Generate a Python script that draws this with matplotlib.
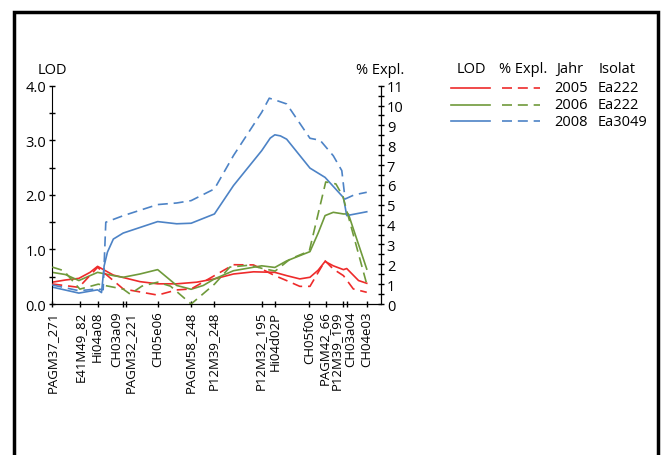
import numpy as np
import matplotlib.pyplot as plt
from matplotlib.ticker import MultipleLocator

plt.rcParams["font.family"] = ["Open Sans", "DejaVu Sans"]

# marker positions along the linkage group (cM)
markers = ["PAGM37_271", "E41M49_82", "Hi04a08", "CH03a09", "PAGM32_221",
           "CH05e06", "PAGM58_248", "P12M39_248", "P12M32_195", "Hi04d02P",
           "CH05f06", "PAGM42_66", "P12M39_199", "CH03a04", "CH04e03"]
marker_cm = [0.0, 8.4, 14.0, 21.6, 22.5, 32.1, 42.3, 49.4, 63.8, 67.9,
             78.3, 83.3, 88.5, 89.7, 95.8]
# label positions, spread apart where markers sit close together
label_cm = [0.0, 8.4, 13.8, 19.7, 23.9, 32.1, 41.9, 49.2, 63.5, 68.0,
            78.3, 82.9, 86.6, 90.8, 95.8]

# LOD profiles
lod05_x = [0, 4.0, 8.1, 11.5, 13.8, 18.6, 26.7, 32.1, 37.9, 44.0, 49.4, 55.2,
           61.3, 67.8, 71.4, 75.4, 78.5, 81.0, 83.1, 85.6, 88.7, 89.7, 93.3, 95.8]
lod05_y = [0.40, 0.44, 0.47, 0.58, 0.69, 0.53, 0.41, 0.37, 0.37, 0.40, 0.46, 0.55,
           0.59, 0.58, 0.52, 0.46, 0.49, 0.62, 0.78, 0.70, 0.63, 0.65, 0.43, 0.38]

lod06_x = [0, 4.0, 8.1, 13.8, 18.6, 21.6, 26.7, 32.1, 37.9, 42.3, 46.0, 49.4,
           55.2, 63.8, 67.8, 71.4, 78.5, 81.0, 83.1, 85.6, 88.7, 90.2, 95.8]
lod06_y = [0.58, 0.54, 0.43, 0.58, 0.52, 0.49, 0.55, 0.63, 0.34, 0.27, 0.34,
           0.46, 0.61, 0.70, 0.67, 0.79, 0.96, 1.30, 1.62, 1.68, 1.65, 1.65, 0.64]

lod08_x = [0, 8.1, 13.8, 15.0, 15.8, 16.8, 18.6, 21.6, 32.1, 37.9, 42.3, 49.4,
           55.2, 63.8, 66.4, 67.8, 69.5, 71.4, 78.5, 83.1, 88.7, 89.7, 95.8]
lod08_y = [0.31, 0.20, 0.26, 0.21, 0.70, 0.95, 1.19, 1.30, 1.51, 1.47, 1.48,
           1.65, 2.17, 2.81, 3.04, 3.10, 3.08, 3.02, 2.49, 2.32, 1.95, 1.62, 1.69]

# explained variance (%)
expl05_x = [0, 8.1, 13.8, 18.6, 21.6, 32.1, 37.9, 42.3, 49.4, 55.2, 61.3,
            67.8, 71.4, 75.4, 78.5, 83.1, 85.6, 88.7, 91.7, 95.8]
expl05_y = [1.01, 0.84, 1.85, 1.18, 0.76, 0.45, 0.71, 0.76, 1.43, 1.98, 1.97,
            1.43, 1.18, 0.89, 0.89, 2.18, 1.76, 1.43, 0.76, 0.59]

expl06_x = [0, 3.5, 8.4, 14.0, 21.6, 23.7, 27.3, 32.1, 36.0, 42.3, 49.4,
            54.1, 60.2, 63.8, 67.9, 72.5, 78.3, 83.3, 86.4, 88.5, 95.8]
expl06_y = [1.86, 1.68, 0.75, 1.00, 0.75, 0.50, 0.90, 1.10, 0.90, 0.00, 1.00,
            1.86, 1.96, 1.80, 1.66, 2.27, 2.67, 6.15, 6.05, 5.44, 1.00]

expl08_x = [0, 8.1, 13.8, 15.5, 16.3, 21.6, 32.1, 37.9, 42.3, 49.4, 55.2,
            63.8, 66.1, 68.4, 71.4, 78.5, 81.6, 85.6, 88.2, 89.2, 92.0, 95.8]
expl08_y = [0.96, 0.67, 0.76, 0.72, 4.12, 4.45, 5.01, 5.09, 5.21, 5.80, 7.48,
            9.66, 10.37, 10.25, 10.08, 8.35, 8.25, 7.47, 6.72, 5.29, 5.50, 5.63]

years = ["2005", "2006", "2008"]
isolates = ["Ea222", "Ea222", "Ea3049"]
colors = ["#ee2b2b", "#6f9a3b", "#4d83c6"]

fig = plt.figure(figsize=(6.61, 4.56), dpi=100)
ax = fig.add_axes([0.0791, 0.3311, 0.4966, 0.4788])
ax2 = ax.twinx()

lods = [(lod05_x, lod05_y), (lod06_x, lod06_y), (lod08_x, lod08_y)]
expls = [(expl05_x, expl05_y), (expl06_x, expl06_y), (expl08_x, expl08_y)]
for (lx, ly), (ex, ey), c in zip(lods, expls, colors):
    ax.plot(lx, ly, color=c, lw=1.2, solid_joinstyle="round")
    ax2.plot(ex, ey, color=c, lw=1.2, dashes=(6, 3.5))

ax.set_xlim(0, 100)
ax.set_ylim(0, 4.0)
ax2.set_ylim(0, 11)

ax.set_yticks(np.arange(0, 4.01, 1.0))
ax.set_yticklabels(["%.1f" % v for v in np.arange(0, 4.01, 1.0)])
ax.yaxis.set_minor_locator(MultipleLocator(0.5))
ax2.set_yticks(range(0, 12))
ax2.yaxis.set_minor_locator(MultipleLocator(0.5))

ax.set_xticks(marker_cm)
ax.set_xticklabels([])
for name, pos in zip(markers, label_cm):
    ax.text(pos, -0.03, name, rotation=90, ha="center", va="top",
            fontsize=9.5, transform=ax.get_xaxis_transform())

for a in (ax, ax2):
    a.spines["top"].set_visible(False)
    a.tick_params(which="both", direction="inout", width=1, labelsize=10.5, pad=2)
    a.tick_params(which="major", length=5)
    a.tick_params(which="minor", length=4)
ax.tick_params(axis="x", length=5)
ax2.spines["left"].set_visible(False)

ax.text(0, 1.04, "LOD", transform=ax.transAxes, ha="center", va="bottom", fontsize=10.5)
ax2.text(1.0, 1.04, "% Expl.", transform=ax.transAxes, ha="center", va="bottom",
         fontsize=10.5)

# legend table
fig.text(0.713, 0.847, "LOD", ha="center", va="center", fontsize=10.5)
fig.text(0.791, 0.847, "% Expl.", ha="center", va="center", fontsize=10.5)
fig.text(0.862, 0.847, "Jahr", ha="center", va="center", fontsize=10.5)
fig.text(0.933, 0.847, "Isolat", ha="center", va="center", fontsize=10.5)
for i, (yr, iso, c) in enumerate(zip(years, isolates, colors)):
    yy = 0.805 - i * 0.0365
    fig.add_artist(plt.Line2D([0.683, 0.741], [yy, yy], color=c, lw=1.2))
    fig.add_artist(plt.Line2D([0.759, 0.817], [yy, yy], color=c, lw=1.2,
                              dashes=(6, 3.5)))
    fig.text(0.839, yy, yr, ha="left", va="center", fontsize=10.5)
    fig.text(0.904, yy, iso, ha="left", va="center", fontsize=10.5)

# frame around the figure, open at the bottom edge
fig.add_artist(plt.Line2D([0.0212, 0.0212, 0.9955, 0.9955], [0.0, 0.9705, 0.9705, 0.0],
                          color="black", lw=2.5, solid_joinstyle="miter"))

fig.savefig("out.png", dpi=100)
